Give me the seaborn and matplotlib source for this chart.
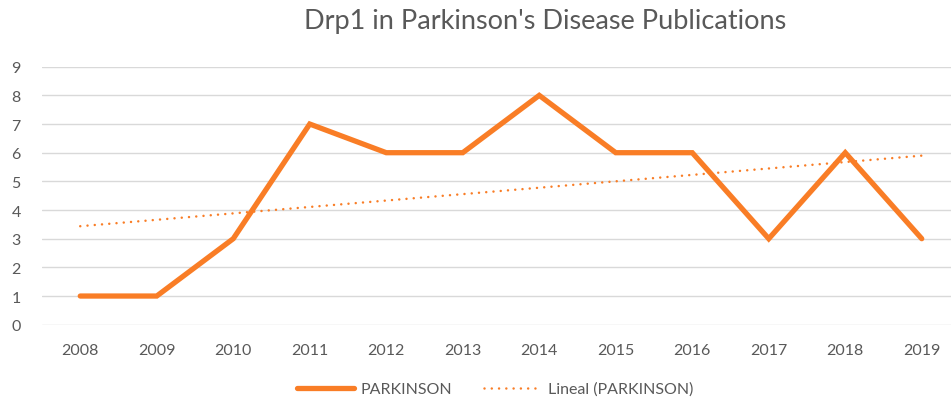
import matplotlib.pyplot as plt
from matplotlib.lines import Line2D
import pandas as pd
import seaborn as sns

# Data
years = [2008, 2009, 2010, 2011, 2012, 2013, 2014, 2015, 2016, 2017, 2018, 2019]
publications = [1, 1, 3, 7, 6, 6, 8, 6, 6, 3, 6, 3]

df = pd.DataFrame({'year': years, 'publications': publications})

orange = '#F97D26'
grey_text = '#595959'
dots = (0, (0.01, 2.9))

sns.set_style('white')
plt.rcParams['font.family'] = ['Lato', 'DejaVu Sans']

fig = plt.figure(figsize=(9.51, 4.02), dpi=100)
ax = fig.add_axes([42 / 951, 1 - 325.7 / 402, 918 / 951, (325.7 - 67.7) / 402])

sns.lineplot(data=df, x='year', y='publications', ax=ax, color=orange,
             linewidth=3.8, solid_capstyle='round', solid_joinstyle='miter',
             zorder=3, legend=False)
# linear trend line, fitted by seaborn
sns.regplot(data=df, x='year', y='publications', ax=ax, scatter=False, ci=None,
            truncate=True, color=orange,
            line_kws={'linestyle': dots, 'linewidth': 1.8,
                      'dash_capstyle': 'round'})

ax.set_xlim(2007.5, 2019.5)
ax.set_ylim(0, 9)
ax.set_xticks(years)
ax.set_yticks(range(0, 10))
ax.grid(axis='y', color='#D9D9D9', linewidth=1)
ax.set_axisbelow(True)
for s in ax.spines.values():
    s.set_visible(False)
ax.tick_params(axis='both', length=0, labelsize=11.5, labelcolor=grey_text)
ax.tick_params(axis='x', pad=13)
ax.tick_params(axis='y', pad=22)
for lbl in ax.get_yticklabels():
    lbl.set_horizontalalignment('left')
ax.set_xlabel('')
ax.set_ylabel('')

handles = [
    Line2D([], [], color=orange, linewidth=3.8, solid_capstyle='round'),
    Line2D([], [], color=orange, linewidth=1.8, linestyle=dots, dash_capstyle='round'),
]
labels = ['PARKINSON', 'Lineal (PARKINSON)']
fig.legend(handles, labels, loc='center', bbox_to_anchor=(495 / 951, 1 - 390 / 402),
           ncol=2, frameon=False, fontsize=11.5, labelcolor=grey_text,
           handlelength=3.6, columnspacing=2.0, handletextpad=0.4)

fig.text(545 / 951, 1 - 22 / 402, "Drp1 in Parkinson's Disease Publications",
         ha='center', va='center', fontsize=19.5, color=grey_text)

fig.savefig('out.png', dpi=100)
